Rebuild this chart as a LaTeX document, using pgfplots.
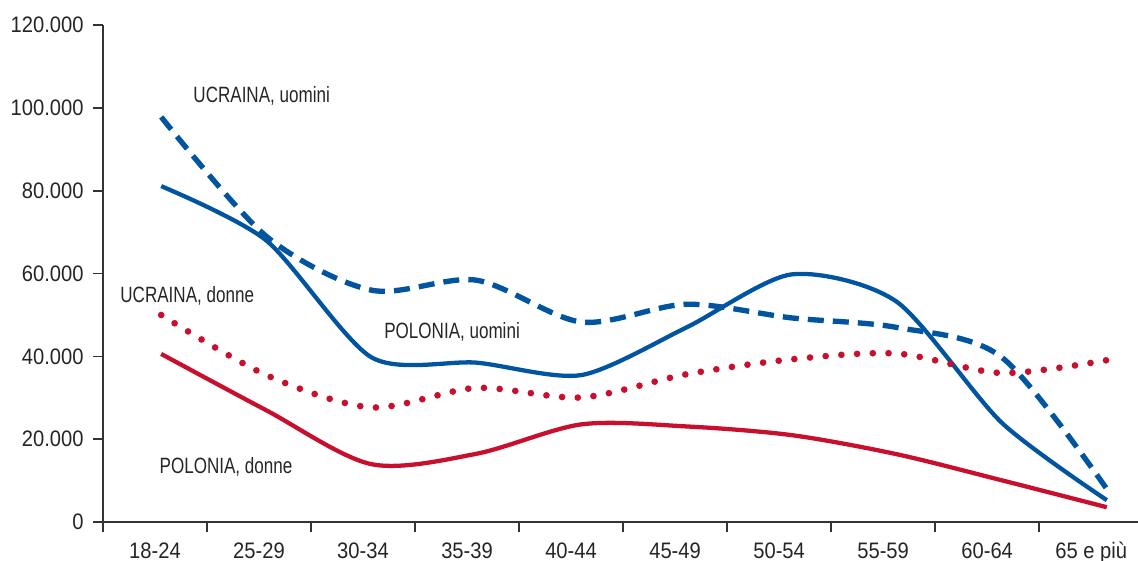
\documentclass[border=0pt]{standalone}
\usepackage{fontspec}
\setmainfont{Liberation Sans}
\newfontfamily\tickfont[FakeStretch=0.9]{Liberation Sans}
\newfontfamily\labfont[FakeStretch=0.77]{Liberation Sans}
\usepackage{pgfplots}
\pgfplotsset{compat=1.18}
\definecolor{ublue}{HTML}{0054A0}
\definecolor{pred}{HTML}{C8102E}
\definecolor{axgray}{HTML}{333333}
\tikzset{lab/.style={font=\labfont\fontsize{8.3}{10}\selectfont, text=black!85, anchor=west, inner sep=0pt}}

\begin{document}
\begin{tikzpicture}
\begin{axis}[
  scale only axis, width=388.1pt, height=186.4pt,
  xmin=-0.5, xmax=9.45, ymin=0, ymax=120000,
  axis lines=left, axis line style={-, axgray, line width=0.6pt},
  tick align=outside, major tick length=3.75pt,
  tick style={axgray, line width=0.6pt},
  ytick={0,20000,40000,60000,80000,100000,120000},
  yticklabels={0,20.000,40.000,60.000,80.000,100.000,120.000},
  scaled y ticks=false,
  ticklabel style={font=\tickfont\fontsize{8.4}{10}\selectfont, text=black!85},
  xtick={-0.5,0.5,...,8.5}, xticklabels={},
  extra x ticks={0,1,...,9},
  extra x tick labels={18-24,25-29,30-34,35-39,40-44,45-49,50-54,55-59,60-64,65 e più},
  extra x tick style={tick style={draw=none},
    xticklabel style={inner ysep=0.4pt, yshift=-3.1pt, text height=6.05pt, text depth=0pt}},
  clip=false,
]
\coordinate (sw) at (rel axis cs:0,0);
\coordinate (ne) at (rel axis cs:1,1);
% UCRAINA, uomini
\addplot[ublue, line width=2pt, dash pattern=on 6pt off 3.4pt, smooth, tension=0.5] coordinates {
  (0.06,97800)(1.07,69000)(2.08,56000)(3.09,58400)(4.10,48300)
  (5.11,52600)(6.12,49300)(7.13,47000)(8.14,39800)(9.15,8000)};
% POLONIA, uomini
\addplot[ublue, line width=1.6pt, smooth, tension=0.45] coordinates {
  (0.06,81100)(1.07,68000)(2.08,39800)(3.09,38500)(4.10,35500)
  (5.11,47000)(6.12,59800)(7.13,53200)(8.14,24000)(9.15,5300)};
% UCRAINA, donne
\addplot[pred, line width=2.5pt, line cap=round, dash pattern=on 0pt off 5.9pt, smooth, tension=0.5] coordinates {
  (0.06,50000)(1.07,35500)(2.08,27700)(3.09,32400)(4.10,30100)
  (5.11,35700)(6.12,39300)(7.13,40700)(8.14,36000)(9.15,39100)};
% POLONIA, donne
\addplot[pred, line width=1.6pt, smooth, tension=0.5] coordinates {
  (0.06,40600)(1.07,27000)(2.08,14000)(3.09,16500)(4.10,23600)
  (5.11,23100)(6.12,21000)(7.13,16400)(8.14,10100)(9.15,3600)};
\node[lab] at (axis cs:0.365,102900) {UCRAINA, uomini};
\node[lab] at (axis cs:-0.337,54600) {UCRAINA, donne};
\node[lab] at (axis cs:2.20,45900) {POLONIA, uomini};
\node[lab] at (axis cs:0.04,13300) {POLONIA, donne};
\end{axis}
\pgfresetboundingbox
\path[use as bounding box] ([xshift=-38.6pt,yshift=-14.25pt]sw) rectangle ([yshift=9.375pt]ne);
\end{tikzpicture}
\end{document}
